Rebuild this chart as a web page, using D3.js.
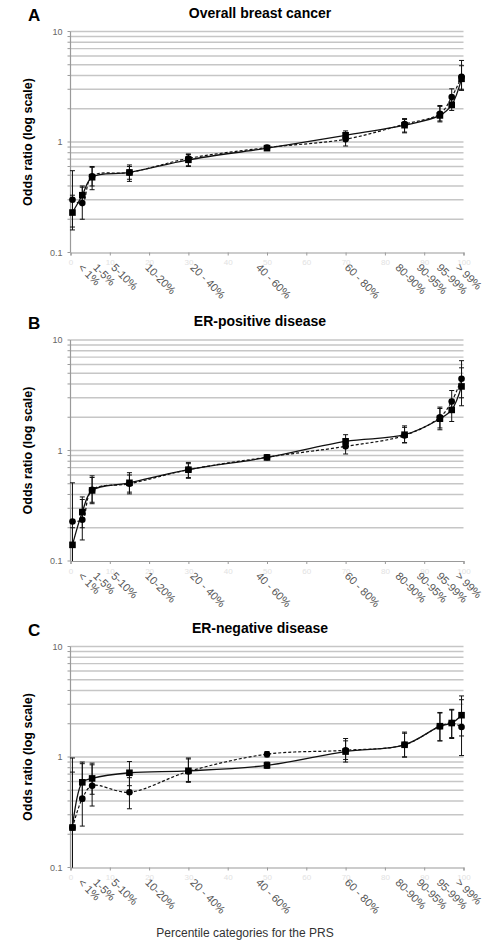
<!DOCTYPE html>
<html>
<head>
<meta charset="utf-8">
<script src="https://cdn.jsdelivr.net/npm/d3@7"></script>
<style>
  body { margin: 0; background: #fff; }
  svg { display: block; font-family: "Liberation Sans", Arial, sans-serif; }
</style>
</head>
<body>
<svg id="chart"></svg>
<script>
// percentile categories of the PRS
const categories = ["< 1%", "1-5%", "5-10%", "10-20%", "20 - 40%", "40 - 60%", "60 - 80%", "80-90%", "90-95%", "95-99%", "> 99%"];
// where each category is plotted on the 0-100 percentile axis
const midpoints = [0.5, 3, 5.5, 15, 30, 50, 70, 85, 94, 97, 99.5];
// where each category label sits on the same axis
const labelAt = [2.5, 6.3, 10.9, 19.5, 31, 47.7, 70.3, 83.2, 88.6, 93.7, 98.5];
const xTicks = [0, 10, 20, 30, 40, 50, 60, 70, 80, 90, 100];
const yLabelTicks = [0.1, 1, 10];

const panelLetters = ["A", "B", "C"];
const panelTitles = ["Overall breast cancer", "ER-positive disease", "ER-negative disease"];

// A: overall
const overallSolid = [0.23, 0.33, 0.48, 0.53, 0.69, 0.88, 1.15, 1.42, 1.74, 2.17, 3.73];
const overallSolidCI = [[0.17, 0.33], [0.28, 0.40], [0.40, 0.59], [0.46, 0.62], [0.61, 0.77], [0.85, 0.91], [1.04, 1.26], [1.23, 1.63], [1.52, 2.10], [1.93, 2.50], [2.93, 4.9]];
const overallDashed = [0.30, 0.28, 0.49, 0.53, 0.71, 0.89, 1.06, 1.45, 1.80, 2.55, 3.9];
const overallDashedCI = [[0.16, 0.55], [0.20, 0.39], [0.37, 0.60], [0.44, 0.60], [0.60, 0.78], [0.86, 0.92], [0.92, 1.2], [1.21, 1.6], [1.55, 2.14], [2.1, 3.03], [3.0, 5.47]];

// B: ER-positive
const erPosSolid = [0.14, 0.277, 0.435, 0.51, 0.67, 0.865, 1.21, 1.39, 1.94, 2.33, 3.8];
const erPosSolidCI = [[0.1, 0.2], [0.2, 0.38], [0.33, 0.59], [0.42, 0.63], [0.57, 0.78], [0.83, 0.9], [1.06, 1.39], [1.18, 1.67], [1.6, 2.4], [1.83, 2.9], [2.54, 5.6]];
const erPosDashed = [0.228, 0.236, 0.44, 0.50, 0.67, 0.87, 1.09, 1.37, 2.0, 2.78, 4.46];
const erPosDashedCI = [[0.1, 0.51], [0.155, 0.36], [0.34, 0.57], [0.405, 0.6], [0.56, 0.76], [0.84, 0.9], [0.93, 1.28], [1.17, 1.62], [1.54, 2.47], [2.25, 3.49], [3.0, 6.5]];

// C: ER-negative
const erNegSolid = [0.23, 0.59, 0.64, 0.72, 0.75, 0.84, 1.12, 1.29, 1.9, 2.03, 2.39];
const erNegSolidCI = [[0.1, 0.73], [0.4, 0.9], [0.46, 0.88], [0.55, 0.91], [0.6, 0.98], [0.79, 0.9], [0.9, 1.4], [1.0, 1.68], [1.4, 2.5], [1.5, 2.7], [1.55, 3.57]];
const erNegDashed = [0.23, 0.42, 0.55, 0.48, 0.74, 1.06, 1.15, 1.29, 1.9, 2.03, 1.87];
const erNegDashedCI = [[0.05, 0.98], [0.237, 0.87], [0.36, 0.85], [0.34, 0.65], [0.59, 0.96], [1.0, 1.12], [0.95, 1.47], [1.0, 1.64], [1.4, 2.53], [1.47, 2.66], [1.03, 3.3]];

const panelData = [
  { solid: overallSolid, solidCI: overallSolidCI, dashed: overallDashed, dashedCI: overallDashedCI },
  { solid: erPosSolid, solidCI: erPosSolidCI, dashed: erPosDashed, dashedCI: erPosDashedCI },
  { solid: erNegSolid, solidCI: erNegSolidCI, dashed: erNegDashed, dashedCI: erNegDashedCI }
];

const W = 491, H = 942;
const left = 70.5, right = 463.5;
const plotTops = [31.5, 340, 646.5];
const plotH = 221;

const svg = d3.select("#chart").attr("width", W).attr("height", H);

const x = d3.scaleLinear().domain([0, 100]).range([left, right]);

panelData.forEach(function(pd, i) {
  const top = plotTops[i];
  const bottom = top + plotH;
  const g = svg.append("g");

  const y = d3.scaleLog().domain([0.1, 10]).range([bottom, top]).clamp(true);
  const gridVals = y.ticks().filter(v => v > 0.1 + 1e-9);

  // gridlines
  g.selectAll(".grid")
    .data(gridVals)
    .enter()
    .append("line")
    .attr("x1", left).attr("x2", right)
    .attr("y1", d => y(d)).attr("y2", d => y(d))
    .attr("stroke", "#c6c6c6")
    .attr("stroke-width", 1.4);

  // y axis
  g.append("line")
    .attr("x1", left).attr("x2", left)
    .attr("y1", top).attr("y2", bottom)
    .attr("stroke", "#9a9a9a").attr("stroke-width", 1.2);
  g.selectAll(".ytick")
    .data(y.ticks())
    .enter()
    .append("line")
    .attr("x1", left - 3).attr("x2", left)
    .attr("y1", d => y(d)).attr("y2", d => y(d))
    .attr("stroke", "#9a9a9a");
  g.selectAll(".ylab")
    .data(yLabelTicks)
    .enter()
    .append("text")
    .attr("x", left - 8)
    .attr("y", d => y(d) + 3)
    .attr("text-anchor", "end")
    .style("font-size", "9px")
    .attr("fill", "#666")
    .text(d => d);

  // x axis (faint numeric ticks)
  const xAxis = g.append("g")
    .attr("transform", `translate(0,${bottom})`)
    .call(d3.axisBottom(x).tickValues(xTicks).tickSize(3).tickPadding(4));
  xAxis.select(".domain").attr("stroke", "#9a9a9a").attr("stroke-width", 1.2);
  xAxis.selectAll(".tick line").attr("stroke", "#9a9a9a");
  xAxis.selectAll(".tick text").attr("fill", "#e2e2e2").style("font-size", "8px")
    .style("font-family", "Liberation Sans, Arial, sans-serif");

  // category labels
  g.selectAll(".cat")
    .data(categories)
    .enter()
    .append("text")
    .attr("transform", (d, j) => `translate(${x(labelAt[j])},${bottom + 13}) rotate(45)`)
    .attr("dy", "0.35em")
    .style("font-size", "11px")
    .attr("fill", "#555")
    .text(d => d);

  // titles
  g.append("text")
    .attr("x", 28).attr("y", top - 11)
    .style("font-size", "17px").style("font-weight", "bold")
    .text(panelLetters[i]);
  g.append("text")
    .attr("x", 260).attr("y", top - 14)
    .attr("text-anchor", "middle")
    .style("font-size", "14px").style("font-weight", "bold")
    .text(panelTitles[i]);
  g.append("text")
    .attr("transform", `translate(32,${(top + bottom) / 2}) rotate(-90)`)
    .attr("text-anchor", "middle")
    .style("font-size", "12.5px").style("font-weight", "bold")
    .text("Odds ratio (log scale)");

  const line = d3.line()
    .x((d, j) => x(midpoints[j]))
    .y(d => y(d))
    .curve(d3.curveCatmullRom.alpha(0.5));

  // error bars
  function errorBars(ci) {
    const eb = g.append("g").attr("stroke", "#111").attr("stroke-width", 1);
    ci.forEach(function(c, j) {
      const cx = x(midpoints[j]);
      eb.append("line").attr("x1", cx).attr("x2", cx).attr("y1", y(c[0])).attr("y2", y(c[1]));
      [c[0], c[1]].forEach(function(v) {
        if (v <= 0.1) return;
        eb.append("line").attr("x1", cx - 2.5).attr("x2", cx + 2.5).attr("y1", y(v)).attr("y2", y(v));
      });
    });
  }
  errorBars(pd.dashedCI);
  errorBars(pd.solidCI);

  g.append("path")
    .attr("d", line(pd.dashed))
    .attr("fill", "none").attr("stroke", "#111")
    .attr("stroke-width", 1.2).attr("stroke-dasharray", "3,2");
  g.append("path")
    .attr("d", line(pd.solid))
    .attr("fill", "none").attr("stroke", "#111")
    .attr("stroke-width", 1.3);

  g.selectAll(".circ")
    .data(pd.dashed)
    .enter()
    .append("circle")
    .attr("cx", (d, j) => x(midpoints[j]))
    .attr("cy", d => y(d))
    .attr("r", 3.3)
    .attr("fill", "#000");
  g.selectAll(".sq")
    .data(pd.solid)
    .enter()
    .append("rect")
    .attr("x", (d, j) => x(midpoints[j]) - 3.3)
    .attr("y", d => y(d) - 3.3)
    .attr("width", 6.6).attr("height", 6.6)
    .attr("fill", "#000");
});

svg.append("text")
  .attr("x", 245).attr("y", 937)
  .attr("text-anchor", "middle")
  .style("font-size", "12px")
  .attr("fill", "#333")
  .text("Percentile categories for the PRS");
</script>
</body>
</html>
